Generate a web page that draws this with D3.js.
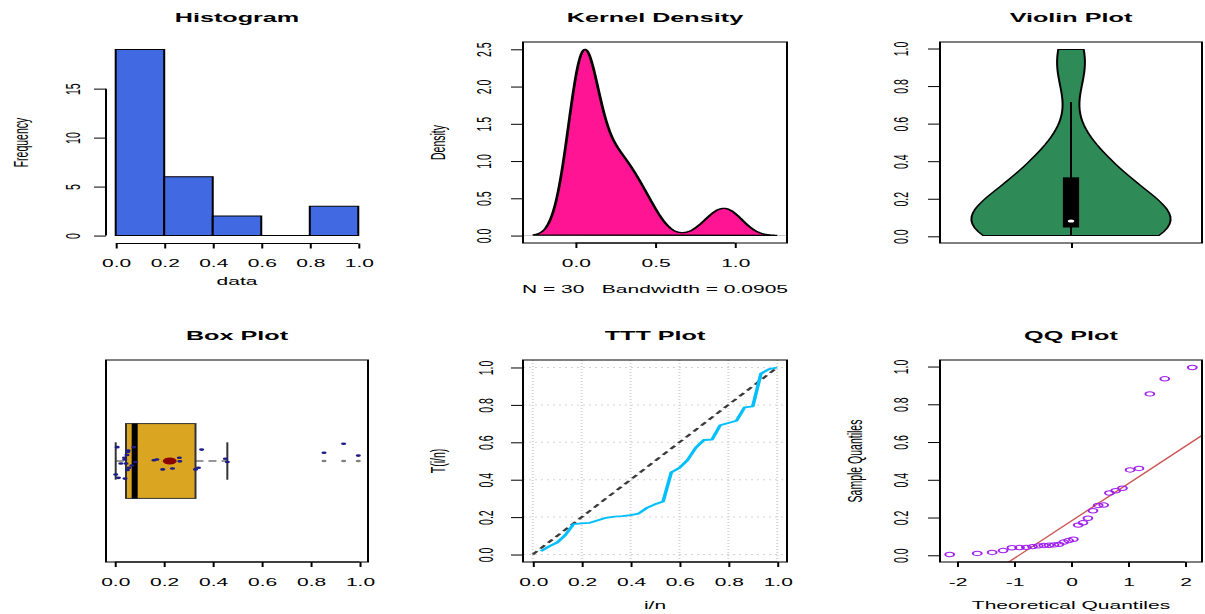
<!DOCTYPE html>
<html>
<head>
<meta charset="utf-8">
<script src="https://cdn.jsdelivr.net/npm/d3@7"></script>
<style>
  body { margin: 0; background: #fff; }
  svg { display: block; font-family: "Liberation Sans", Arial, Helvetica, sans-serif; }
  text { white-space: pre; }
</style>
</head>
<body>
<svg id="chart" width="1205" height="614"></svg>
<script>
// ---- data -------------------------------------------------------------
// 30 observations, sorted ascending
const sample = [0.004, 0.010, 0.015, 0.025, 0.040, 0.041, 0.042, 0.046, 0.050, 0.052,
                0.053, 0.055, 0.058, 0.070, 0.078, 0.085, 0.160, 0.172, 0.196, 0.236,
                0.264, 0.266, 0.330, 0.342, 0.355, 0.452, 0.460, 0.855, 0.935, 0.995];
// vertical jitter of the strip points drawn over the box plot (box-axis units)
const stripJitter = [-0.072, 0.074, -0.090, -0.013, 0.017, 0.008, -0.094, -0.013, 0.032, -0.048,
                     0.048, 0.056, -0.036, -0.024, 0.074, -0.005, 0.004, 0.008, -0.045, -0.040,
                     0.017, -0.002, -0.045, -0.036, 0.061, 0.012, -0.005, 0.044, 0.092, 0.029];
const histBreaks = [0, 0.2, 0.4, 0.6, 0.8, 1.0];
const kdeBandwidth = 0.0905;
const panelTitles = ["Histogram", "Kernel Density", "Violin Plot", "Box Plot", "TTT Plot", "QQ Plot"];
const unitTicks = [0, 0.2, 0.4, 0.6, 0.8, 1.0];
const freqTicks = [0, 5, 10, 15];
const densityXTicks = [0, 0.5, 1.0];
const densityYTicks = [0, 0.5, 1.0, 1.5, 2.0, 2.5];
const qqXTicks = [-2, -1, 0, 1, 2];

// ---- layout -----------------------------------------------------------
const SX = 2;                       // horizontal stretch of the whole figure
const COLS = [[106, 368], [523, 787], [940, 1202]];
const ROWS = [[42, 243], [360, 562]];
const TITLE_BASE = [22.5, 340.5];
const FS = 10.5, TFS = 12.6;

const svg = d3.select("#chart");
const root = svg.append("g")
  .attr("transform", `scale(${SX},1)`)
  .attr("font-size", FS)
  .attr("fill", "#000");

const fmt1 = d3.format(".1f");
const fmtInt = d => String(d);

function region(c, r) {
  return { x0: COLS[c][0] / SX, x1: COLS[c][1] / SX, y0: ROWS[r][0], y1: ROWS[r][1] };
}
function ext(lo, hi) { const d = (hi - lo) * 0.04; return [lo - d, hi + d]; }

function frame(g, R) {
  g.append("rect").attr("x", R.x0).attr("y", R.y0)
    .attr("width", R.x1 - R.x0).attr("height", R.y1 - R.y0)
    .attr("fill", "none").attr("stroke", "#000").attr("stroke-width", 1);
}
function title(g, R, r, txt) {
  g.append("text").attr("x", (R.x0 + R.x1) / 2).attr("y", TITLE_BASE[r])
    .attr("text-anchor", "middle").attr("font-weight", "bold").attr("font-size", TFS).text(txt);
}
function xAxis(g, scale, y, ticks, fmt) {
  const ax = g.append("g").attr("transform", `translate(0,${y})`)
    .call(d3.axisBottom(scale).tickValues(ticks).tickFormat(fmt).tickSizeOuter(0).tickSize(5));
  ax.attr("font-size", null).attr("font-family", null);
  ax.select(".domain").attr("d", `M${scale(ticks[0])},0H${scale(ticks[ticks.length - 1])}`);
  ax.selectAll("line,path").attr("stroke", "#000").attr("stroke-width", 1);
  ax.selectAll("text").attr("y", 16.3).attr("dy", "0.71em").attr("fill", "#000");
  return ax;
}
function yAxis(g, scale, x, ticks, fmt, off) {
  const ax = g.append("g").attr("transform", `translate(${x},0)`)
    .call(d3.axisLeft(scale).tickValues(ticks).tickFormat(fmt).tickSizeOuter(0).tickSize(6));
  ax.attr("font-size", null).attr("font-family", null);
  ax.select(".domain").attr("d", `M0,${scale(ticks[0])}V${scale(ticks[ticks.length - 1])}`);
  ax.selectAll("line,path").attr("stroke", "#000").attr("stroke-width", 1);
  ax.selectAll("text").attr("x", 0).attr("y", 0).attr("dy", "0.36em")
    .attr("text-anchor", "middle").attr("fill", "#000")
    .attr("transform", `translate(${-off},0) rotate(-90)`);
  return ax;
}
function yLabel(g, R, txt) {
  g.append("text")
    .attr("transform", `translate(${R.x0 - 86 / SX},${(R.y0 + R.y1) / 2}) rotate(-90)`)
    .attr("dy", "0.36em").attr("text-anchor", "middle").text(txt);
}
function xLabel(g, R, base, txt) {
  g.append("text").attr("x", (R.x0 + R.x1) / 2).attr("y", base)
    .attr("text-anchor", "middle").attr("xml:space", "preserve").text(txt);
}

// ---- statistics helpers -----------------------------------------------
const n = sample.length;
const sMin = d3.min(sample), sMax = d3.max(sample);
const gauss = u => Math.exp(-0.5 * u * u) / Math.sqrt(2 * Math.PI);
function kde(h, grid) {
  return grid.map(x => [x, d3.sum(sample, v => gauss((x - v) / h)) / (n * h)]);
}
function fivenum(x) {
  const m = x.length, n4 = Math.floor((m + 3) / 2) / 2;
  const d = [1, n4, (m + 1) / 2, m + 1 - n4, m];
  return d.map(k => 0.5 * (x[Math.floor(k) - 1] + x[Math.ceil(k) - 1]));
}
function qnorm(p) {
  const a = [-3.969683028665376e+01, 2.209460984245205e+02, -2.759285104469687e+02, 1.383577518672690e+02, -3.066479806614716e+01, 2.506628277459239e+00];
  const b = [-5.447609879822406e+01, 1.615858368580409e+02, -1.556989798598866e+02, 6.680131188771972e+01, -1.328068155288572e+01];
  const c = [-7.784894002430293e-03, -3.223964580411365e-01, -2.400758277161838e+00, -2.549732539343734e+00, 4.374664141464968e+00, 2.938163982698783e+00];
  const d = [7.784695709041462e-03, 3.224671290700398e-01, 2.445134137142996e+00, 3.754408661907416e+00];
  const pl = 0.02425;
  if (p < pl) {
    const q = Math.sqrt(-2 * Math.log(p));
    return (((((c[0]*q+c[1])*q+c[2])*q+c[3])*q+c[4])*q+c[5]) / ((((d[0]*q+d[1])*q+d[2])*q+d[3])*q+1);
  }
  if (p > 1 - pl) return -qnorm(1 - p);
  const q = p - 0.5, r = q * q;
  return (((((a[0]*r+a[1])*r+a[2])*r+a[3])*r+a[4])*r+a[5])*q / (((((b[0]*r+b[1])*r+b[2])*r+b[3])*r+b[4])*r+1);
}

// ---- 1. Histogram -----------------------------------------------------
{
  const R = region(0, 0), g = root.append("g");
  const bins = histBreaks.slice(0, -1).map((lo, i) => {
    const hi = histBreaks[i + 1];
    return { lo, hi, count: sample.filter(v => (i === 0 ? v >= lo : v > lo) && v <= hi).length };
  });
  const maxC = d3.max(bins, b => b.count);
  const x = d3.scaleLinear().domain(ext(0, 1)).range([R.x0, R.x1]);
  const y = d3.scaleLinear().domain(ext(0, maxC)).range([R.y1, R.y0]);
  g.selectAll("path.bar").data(bins).join("path").attr("class", "bar")
    .attr("d", b => `M${x(b.lo)},${y(0)}H${x(b.hi)}V${y(b.count)}H${x(b.lo)}Z`)
    .attr("fill", "#4169E1").attr("stroke", "#000").attr("stroke-width", 1);
  xAxis(g, x, R.y1 + 0.5, unitTicks, fmt1);
  yAxis(g, y, R.x0, freqTicks, fmtInt, 17);
  title(g, R, 0, panelTitles[0]);
  xLabel(g, R, 285, "data");
  yLabel(g, R, "Frequency");
}

// ---- 2. Kernel density ------------------------------------------------
{
  const R = region(1, 0), g = root.append("g");
  const lo = sMin - 3 * kdeBandwidth, hi = sMax + 3 * kdeBandwidth;
  const grid = d3.range(512).map(i => lo + (hi - lo) * i / 511);
  const dens = kde(kdeBandwidth, grid);
  const maxD = d3.max(dens, d => d[1]);
  const x = d3.scaleLinear().domain(ext(lo, hi)).range([R.x0, R.x1]);
  const y = d3.scaleLinear().domain(ext(0, maxD)).range([R.y1, R.y0]);
  g.append("line").attr("x1", R.x0).attr("x2", R.x1).attr("y1", y(0)).attr("y2", y(0))
    .attr("stroke", "#bebebe").attr("stroke-width", 0.8);
  g.append("path").datum(dens)
    .attr("d", d3.line().x(d => x(d[0])).y(d => y(d[1])).curve(d3.curveLinearClosed))
    .attr("fill", "#FF1493").attr("stroke", "#000").attr("stroke-width", 1.4);
  frame(g, R);
  xAxis(g, x, R.y1, densityXTicks, fmt1);
  yAxis(g, y, R.x0, densityYTicks, fmt1, 20);
  title(g, R, 0, panelTitles[1]);
  xLabel(g, R, 293, `N = ${n}   Bandwidth = ${kdeBandwidth}`);
  yLabel(g, R, "Density");
}

// ---- 3. Violin plot ---------------------------------------------------
{
  const R = region(2, 0), g = root.append("g");
  const x = d3.scaleLinear().domain([0.5, 1.5]).range([R.x0, R.x1]);
  const y = d3.scaleLinear().domain(ext(sMin, sMax)).range([R.y1, R.y0]);
  const h = d3.deviation(sample) * Math.pow(4 / (3 * n), 0.2);
  const grid = d3.range(50).map(i => sMin + (sMax - sMin) * i / 49);
  const dens = kde(h, grid);
  const maxD = d3.max(dens, d => d[1]);
  const halfMax = 0.38;
  const outline = dens.map(d => [1 + halfMax * d[1] / maxD, d[0]])
    .concat(dens.slice().reverse().map(d => [1 - halfMax * d[1] / maxD, d[0]]));
  g.append("path").datum(outline)
    .attr("d", d3.line().x(d => x(d[0])).y(d => y(d[1])).curve(d3.curveLinearClosed))
    .attr("fill", "#2E8B57").attr("stroke", "#000").attr("stroke-width", 1);
  const q1 = d3.quantile(sample, 0.25), q3 = d3.quantile(sample, 0.75), med = d3.median(sample);
  const iqr = q3 - q1;
  const upper = Math.min(q3 + 1.5 * iqr, sMax), lower = Math.max(q1 - 1.5 * iqr, sMin);
  g.append("line").attr("x1", x(1)).attr("x2", x(1)).attr("y1", y(lower)).attr("y2", y(upper))
    .attr("stroke", "#000").attr("stroke-width", 1);
  const bw = 0.031;
  g.append("rect").attr("x", x(1 - bw)).attr("width", x(1 + bw) - x(1 - bw))
    .attr("y", y(q3)).attr("height", y(q1) - y(q3)).attr("fill", "#000");
  g.append("circle").attr("cx", x(1)).attr("cy", y(med)).attr("r", 1.6).attr("fill", "#fff");
  frame(g, R);
  xAxis(g, x, R.y1, [1], () => "");
  yAxis(g, y, R.x0, unitTicks, fmt1, 20);
  title(g, R, 0, panelTitles[2]);
}

// ---- 4. Box plot ------------------------------------------------------
{
  const R = region(0, 1), g = root.append("g");
  const x = d3.scaleLinear().domain(ext(sMin, sMax)).range([R.x0, R.x1]);
  const y = d3.scaleLinear().domain(ext(0.5, 1.5)).range([R.y1, R.y0]);
  const [mn, hl, md, hu, mx] = fivenum(sample);
  const step = 1.5 * (hu - hl);
  const inside = sample.filter(v => v >= hl - step && v <= hu + step);
  const wLo = d3.min(inside), wHi = d3.max(inside);
  const outliers = sample.filter(v => v < hl - step || v > hu + step);
  const half = 0.2, staple = 0.1;
  // whiskers
  [[wLo, hl], [hu, wHi]].forEach(([a, b]) => {
    g.append("line").attr("x1", x(a)).attr("x2", x(b)).attr("y1", y(1)).attr("y2", y(1))
      .attr("stroke", "#333").attr("stroke-width", 1).attr("stroke-dasharray", "4,2.5");
  });
  [wLo, wHi].forEach(v => {
    g.append("line").attr("x1", x(v)).attr("x2", x(v)).attr("y1", y(1 - staple)).attr("y2", y(1 + staple))
      .attr("stroke", "#333").attr("stroke-width", 1);
  });
  g.append("rect").attr("x", x(hl)).attr("width", x(hu) - x(hl))
    .attr("y", y(1 + half)).attr("height", y(1 - half) - y(1 + half))
    .attr("fill", "#DAA520").attr("stroke", "#333").attr("stroke-width", 1);
  g.append("line").attr("x1", x(md)).attr("x2", x(md)).attr("y1", y(1 - half)).attr("y2", y(1 + half))
    .attr("stroke", "#000").attr("stroke-width", 3);
  g.selectAll("circle.out").data(outliers).join("circle").attr("class", "out")
    .attr("cx", d => x(d)).attr("cy", y(1)).attr("r", 1.3).attr("fill", "#7f7f7f");
  g.selectAll("circle.pt").data(sample).join("circle").attr("class", "pt")
    .attr("cx", d => x(d)).attr("cy", (d, i) => y(1 + stripJitter[i])).attr("r", 1.3)
    .attr("fill", "#1c1c8a");
  g.append("circle").attr("cx", x(d3.mean(sample))).attr("cy", y(1)).attr("r", 3.5).attr("fill", "#8B0000");
  frame(g, R);
  xAxis(g, x, R.y1, unitTicks, fmt1);
  title(g, R, 1, panelTitles[3]);
}

// ---- 5. TTT plot ------------------------------------------------------
{
  const R = region(1, 1), g = root.append("g");
  const x = d3.scaleLinear().domain(ext(0, 1)).range([R.x0, R.x1]);
  const y = d3.scaleLinear().domain(ext(0, 1)).range([R.y1, R.y0]);
  const total = d3.sum(sample);
  let cum = 0;
  const ttt = sample.map((v, i) => {
    cum += v;
    return [(i + 1) / n, (cum + (n - i - 1) * v) / total];
  });
  unitTicks.forEach(t => {
    g.append("line").attr("x1", x(t)).attr("x2", x(t)).attr("y1", R.y0).attr("y2", R.y1)
      .attr("stroke", "#d3d3d3").attr("stroke-width", 1).attr("stroke-dasharray", "1,2");
    g.append("line").attr("x1", R.x0).attr("x2", R.x1).attr("y1", y(t)).attr("y2", y(t))
      .attr("stroke", "#d3d3d3").attr("stroke-width", 1).attr("stroke-dasharray", "1,2");
  });
  g.append("line").attr("x1", x(0)).attr("y1", y(0)).attr("x2", x(1)).attr("y2", y(1))
    .attr("stroke", "#3a3a3a").attr("stroke-width", 1.6).attr("stroke-dasharray", "4,3");
  g.append("path").datum(ttt)
    .attr("d", d3.line().x(d => x(d[0])).y(d => y(d[1])))
    .attr("fill", "none").attr("stroke", "#00BFFF").attr("stroke-width", 1.8)
    .attr("stroke-linejoin", "round");
  frame(g, R);
  xAxis(g, x, R.y1, unitTicks, fmt1);
  yAxis(g, y, R.x0, unitTicks, fmt1, 19);
  title(g, R, 1, panelTitles[4]);
  xLabel(g, R, 609, "i/n");
  yLabel(g, R, "T(i/n)");
}

// ---- 6. QQ plot -------------------------------------------------------
{
  const R = region(2, 1), g = root.append("g");
  const theo = sample.map((v, i) => qnorm((i + 0.5) / n));
  const x = d3.scaleLinear().domain(ext(d3.min(theo), d3.max(theo))).range([R.x0, R.x1]);
  const y = d3.scaleLinear().domain(ext(sMin, sMax)).range([R.y1, R.y0]);
  const yq1 = d3.quantile(sample, 0.25), yq3 = d3.quantile(sample, 0.75);
  const xq1 = qnorm(0.25), xq3 = qnorm(0.75);
  const slope = (yq3 - yq1) / (xq3 - xq1), icpt = yq1 - slope * xq1;
  g.append("clipPath").attr("id", "qqclip").append("rect")
    .attr("x", R.x0).attr("y", R.y0).attr("width", R.x1 - R.x0).attr("height", R.y1 - R.y0);
  const [dx0, dx1] = x.domain();
  g.append("line").attr("clip-path", "url(#qqclip)")
    .attr("x1", x(dx0)).attr("y1", y(icpt + slope * dx0))
    .attr("x2", x(dx1)).attr("y2", y(icpt + slope * dx1))
    .attr("stroke", "#cd5555").attr("stroke-width", 1);
  g.selectAll("circle.qq").data(sample).join("circle").attr("class", "qq")
    .attr("cx", (d, i) => x(theo[i])).attr("cy", d => y(d)).attr("r", 2.2)
    .attr("fill", "none").attr("stroke", "#A020F0").attr("stroke-width", 1);
  frame(g, R);
  xAxis(g, x, R.y1, qqXTicks, fmtInt);
  yAxis(g, y, R.x0, unitTicks, fmt1, 20);
  title(g, R, 1, panelTitles[5]);
  xLabel(g, R, 609, "Theoretical Quantiles");
  yLabel(g, R, "Sample Quantiles");
}
</script>
</body>
</html>
